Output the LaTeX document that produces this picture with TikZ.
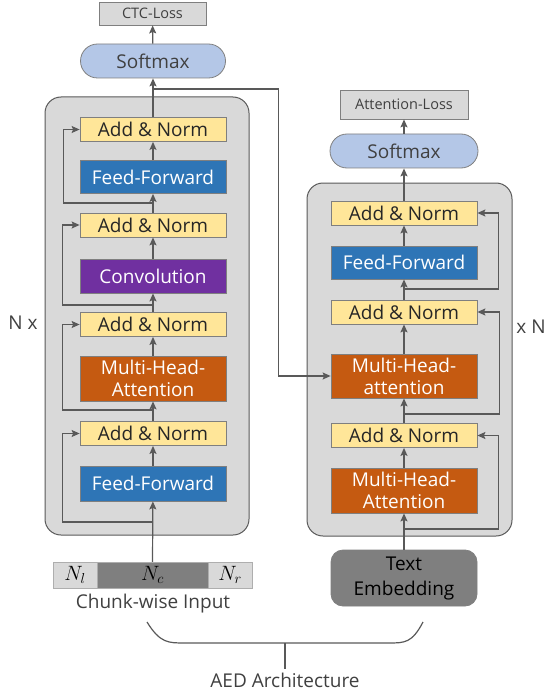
\documentclass[tikz,border=0pt]{standalone}
\usepackage{fontspec}
\setmainfont{Open Sans}
\usetikzlibrary{arrows.meta}
\definecolor{linegray}{HTML}{595959}
\definecolor{boxline}{HTML}{7F7F7F}
\definecolor{textgray}{HTML}{404040}
\definecolor{blockgray}{HTML}{D9D9D9}
\definecolor{normyellow}{HTML}{FFE699}
\definecolor{ffblue}{HTML}{2E75B6}
\definecolor{convpurple}{HTML}{7030A0}
\definecolor{mhaorange}{HTML}{C55A11}
\definecolor{smblue}{HTML}{B4C7E7}
\definecolor{embgray}{HTML}{7F7F7F}
\begin{document}
\begin{tikzpicture}[x=1pt,y=-1pt,
    every node/.style={font=\fontsize{19}{22}\selectfont, text=textgray},
    box/.style={draw=boxline, line width=0.8pt, minimum width=146pt, inner sep=0pt, align=center},
    addnorm/.style={box, fill=normyellow, minimum height=24pt, text=black!85},
    ffwd/.style={box, fill=ffblue, minimum height=33pt, text=white},
    mha/.style={box, fill=mhaorange, minimum height=45pt, text=white},
    softmax/.style={box, fill=smblue, minimum width=145pt, minimum height=34pt, rounded corners=17pt},
    loss/.style={box, fill=blockgray, font=\fontsize{14.5}{17}\selectfont},
    block/.style={draw=linegray, line width=1pt, fill=blockgray, rounded corners=16pt},
    chunk/.style={minimum height=26pt, inner sep=0pt, draw=blockgray!80!black, line width=0.5pt,
        text=black, font=\fontsize{21}{22}\selectfont},
    conn/.style={draw=linegray, line width=1.2pt, -{Stealth[length=8pt,width=7pt,inset=1.5pt]}},
    line/.style={draw=linegray, line width=1.2pt}]
\useasboundingbox (0,0) rectangle (546,695);

% encoder (left)
\node[block, minimum width=204pt, minimum height=438pt] (blockL) at (147,316) {};
\node[loss, minimum width=107pt, minimum height=23pt] (ctc) at (152.5,13.5) {CTC-Loss};
\node[softmax] (smL) at (153,61) {Softmax};
\node[addnorm] (anL1) at (153,129.5) {Add \& Norm};
\node[ffwd] (ffL1) at (153,177) {Feed-Forward};
\node[addnorm] (anL2) at (153,225) {Add \& Norm};
\node[box, fill=convpurple, minimum height=34pt, text=white] (conv) at (153,276) {Convolution};
\node[addnorm] (anL3) at (153,324.5) {Add \& Norm};
\node[mha] (mhaL) at (153,378.5) {Multi-Head-\\Attention};
\node[addnorm] (anL4) at (153,433.5) {Add \& Norm};
\node[ffwd, minimum height=35pt] (ffL2) at (153,483.5) {Feed-Forward};
\node (Nx) at (23,323) {N x};

% chunk-wise input
\node[chunk, fill=blockgray, minimum width=44pt] (Nl) at (75,575) {$N_l$};
\node[chunk, fill=embgray, minimum width=111pt] (Nc) at (152.5,575) {$N_c$};
\node[chunk, fill=blockgray, minimum width=44pt] (Nr) at (230,575) {$N_r$};
\node (input) at (153,604) {Chunk-wise Input};

% decoder (right)
\node[block, minimum width=205pt, minimum height=353pt] (blockR) at (409.5,359.5) {};
\node[loss, minimum width=128pt, minimum height=29pt] (att) at (404,104.5) {Attention-Loss};
\node[softmax, minimum width=148pt] (smR) at (404,151) {Softmax};
\node[addnorm] (anR1) at (404,213) {Add \& Norm};
\node[ffwd] (ffR) at (404,262.5) {Feed-Forward};
\node[addnorm] (anR2) at (404,312) {Add \& Norm};
\node[mha, minimum height=44pt] (mhaR2) at (404,376) {Multi-Head-\\attention};
\node[addnorm] (anR3) at (404,435.5) {Add \& Norm};
\node[mha] (mhaR1) at (404,490.5) {Multi-Head-\\Attention};
\node[box, fill=embgray, minimum height=56pt, rounded corners=12pt, text=black,
    font=\fontsize{19}{25}\selectfont] (emb) at (404,578) {Text\\Embedding};
\node (xN) at (531,327) {x N};

% main paths
\draw[conn] (Nc.north) -- (ffL2);
\foreach \a/\b in {ffL2/anL4, anL4/mhaL, mhaL/anL3, anL3/conv, conv/anL2,
    anL2/ffL1, ffL1/anL1, anL1/smL, smL/ctc,
    emb/mhaR1, mhaR1/anR3, anR3/mhaR2, mhaR2/anR2, anR2/ffR, ffR/anR1,
    anR1/smR, smR/att}
  \draw[conn] (\a) -- (\b);

% residual paths
\coordinate (bL1) at (153,203);
\coordinate (bL2) at (153,305);
\coordinate (bL3) at (153,410);
\coordinate (bL4) at (153,522);
\draw[conn] (bL1) -| ([xshift=-16pt]anL1.west) -- (anL1.west);
\draw[conn] (bL2) -| ([xshift=-17pt]anL2.west) -- (anL2.west);
\draw[conn] (bL3) -| ([xshift=-17pt]anL3.west) -- (anL3.west);
\draw[conn] (bL4) -| ([xshift=-17pt]anL4.west) -- (anL4.west);
\coordinate (bR1) at (404,289);
\coordinate (bR2) at (404,414);
\coordinate (bR3) at (404,529);
\draw[conn] (bR1) -| ([xshift=21pt]anR1.east) -- (anR1.east);
\draw[conn] (bR2) -| ([xshift=22pt]anR2.east) -- (anR2.east);
\draw[conn] (bR3) -| ([xshift=21pt]anR3.east) -- (anR3.east);

% encoder output to decoder
\coordinate (br) at (153,89);
\draw[conn] (br) -| ([xshift=-52.5pt]mhaR2.west) -- (mhaR2.west);

% brace
\node (aed) at (285,680) {AED Architecture};
\draw[line] (147,622) .. controls (160,643) and (168,643) .. (185,643)
    -- (388,643) .. controls (405,643) and (412,643) .. (423,622);
\draw[line] (285,643) -- (aed.north);
\end{tikzpicture}
\end{document}
